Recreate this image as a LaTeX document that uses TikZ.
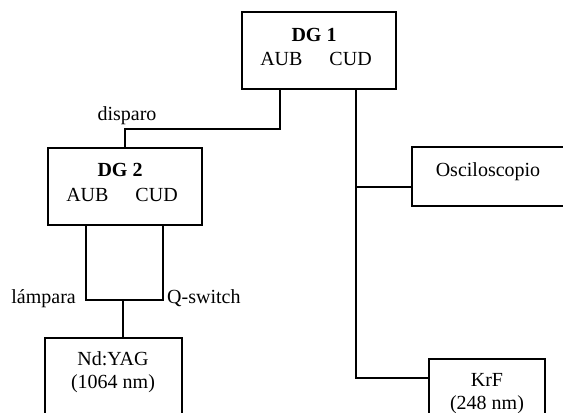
\documentclass[tikz,border=0pt]{standalone}
\usepackage{fontspec}
\setmainfont{Liberation Serif}
\begin{document}
\begin{tikzpicture}[x=1bp,y=-1bp,
  box/.style={draw, line width=1.4bp, rectangle, inner sep=0pt, outer sep=0pt},
  txt/.style={inner sep=0pt, anchor=base, font=\fontsize{20bp}{24bp}\selectfont},
  wire/.style={line width=1.4bp}]
\useasboundingbox (0,0) rectangle (563,412);
\clip (0,0) rectangle (563,412);
% boxes
\node[box, minimum width=154bp, minimum height=77bp] (dg1) at (319,50.5) {};
\node[box, minimum width=154bp, minimum height=77bp] (dg2) at (125,186.5) {};
\node[box, minimum width=137bp, minimum height=100bp] (nd) at (113.5,388) {};
\node[box, minimum width=200bp, minimum height=59bp] (osc) at (512,176.5) {};
\node[box, minimum width=116bp, minimum height=100bp] (krf) at (487,409) {};
% texts
\node[txt, font=\fontsize{20bp}{24bp}\selectfont\bfseries] (dg1t) at (314,41) {DG 1};
\node[txt] (dg1o) at (316,65) {AUB\hspace{27bp}CUD};
\node[txt, font=\fontsize{20bp}{24bp}\selectfont\bfseries] (dg2t) at (120,176) {DG 2};
\node[txt] (dg2o) at (122,201) {AUB\hspace{27bp}CUD};
\node[txt] (ndt1) at (113,365) {Nd:YAG};
\node[txt] (ndt2) at (113,388) {(1064 nm)};
\node[txt] (krft1) at (487,386) {KrF};
\node[txt] (krft2) at (487,409) {(248 nm)};
\node[txt] (osct) at (488,176) {Osciloscopio};
% junction coordinates
\coordinate (a1) at (280,129);
\coordinate (a2) at (125,129);
\coordinate (c1) at (356,187);
\coordinate (k1) at (356,378);
\coordinate (l1) at (86,300);
\coordinate (q1) at (163,300);
\coordinate (m1) at (123,300);
% wires
\draw[wire] (a1 |- dg1.south) -- (a1) -- (a2) -- (a2 |- dg2.north);
\draw[wire] (c1 |- dg1.south) -- (k1) -- (k1 -| krf.west);
\draw[wire] (c1) -- (c1 -| osc.west);
\draw[wire] (l1 |- dg2.south) -- (l1) -- (q1) -- (q1 |- dg2.south);
\draw[wire] (m1) -- (m1 |- nd.north);
% wire labels
\node[txt] (disp) at (127,120) {disparo};
\node[txt, anchor=base east] (lamp) at (76,303) {lámpara};
\node[txt, anchor=base west] (qsw) at (167,303) {Q-switch};
\end{tikzpicture}
\end{document}
